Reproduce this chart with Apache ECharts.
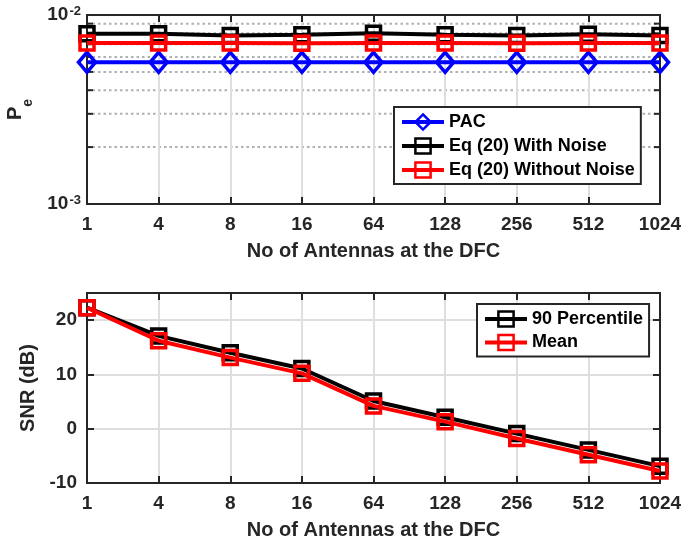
<!DOCTYPE html>
<html>
<head>
<meta charset="utf-8">
<script src="https://cdn.jsdelivr.net/npm/echarts@6/dist/echarts.min.js"></script>
<style>html,body{margin:0;padding:0;background:#fff}#c{width:681px;height:544px}</style>
</head>
<body>
<div id="c"></div>
<script>
// ---- data ----
const categories = ['1', '4', '8', '16', '64', '128', '256', '512', '1024'];
const pacPe = [5.62e-3, 5.62e-3, 5.62e-3, 5.62e-3, 5.62e-3, 5.62e-3, 5.62e-3, 5.62e-3, 5.62e-3];
const eqWithNoisePe = [7.95e-3, 7.95e-3, 7.8e-3, 7.85e-3, 8.0e-3, 7.85e-3, 7.8e-3, 7.9e-3, 7.8e-3];
const eqWithoutNoisePe = [7.1e-3, 7.1e-3, 7.1e-3, 7.08e-3, 7.1e-3, 7.1e-3, 7.08e-3, 7.1e-3, 7.1e-3];
const snr90 = [22.3, 17.1, 14.0, 11.1, 5.1, 2.1, -0.9, -3.9, -6.9];
const snrMean = [22.3, 16.2, 13.1, 10.2, 4.2, 1.3, -1.8, -4.8, -7.8];
const peMinorTicks = [2e-3, 3e-3, 4e-3, 5e-3, 6e-3, 7e-3, 8e-3, 9e-3];
const peRange = [1e-3, 1e-2];
const snrRange = [-10, 25];
const snrInterval = 10;
const legendTop = ['PAC', 'Eq (20) With Noise', 'Eq (20) Without Noise'];
const legendBottom = ['90 Percentile', 'Mean'];
const xName = 'No of Antennas at the DFC';

// ---- styling ----
const FONT = '"Liberation Sans", Arial, Helvetica, sans-serif';
const AX = '#262626';
const GRIDC = '#dedede';

function catAxis(grid, pos, showLabels) {
  return {
    type: 'category', gridIndex: grid, position: pos, data: categories,
    boundaryGap: false,
    axisLine: { show: true, onZero: false, lineStyle: { color: AX, width: 2 } },
    axisTick: { show: true, inside: true, length: 7, alignWithLabel: true, lineStyle: { color: AX, width: 2 } },
    axisLabel: { show: showLabels, margin: 11, fontSize: 19, fontWeight: 'bold', color: AX, fontFamily: FONT },
    splitLine: { show: showLabels, lineStyle: { color: GRIDC, width: 2 } },
    name: showLabels ? xName : '',
    nameLocation: 'middle', nameGap: 37,
    nameTextStyle: { fontSize: 20, fontWeight: 'bold', color: AX, fontFamily: FONT },
    z: 3
  };
}

function legendBox(data, left, top, gap) {
  return {
    data: data, orient: 'vertical', left: left, top: top,
    itemWidth: 42, itemHeight: 19, itemGap: gap,
    padding: [5, 6, 4, 6],
    backgroundColor: '#fff', borderColor: AX, borderWidth: 2, borderRadius: 0,
    lineStyle: { width: 4 },
    itemStyle: { borderWidth: 2.5 },
    textStyle: { fontSize: 18, fontWeight: 'bold', color: '#000', fontFamily: FONT, lineHeight: 20 }
  };
}

const option = {
  animation: false,
  backgroundColor: '#fff',
  grid: [
    { left: 87, right: 21, top: 15, height: 189, show: true, borderColor: AX, borderWidth: 2, backgroundColor: '#fff', outerBoundsMode: 'none', containLabel: false },
    { left: 87, right: 21, top: 293, height: 190, show: true, borderColor: AX, borderWidth: 2, backgroundColor: '#fff', outerBoundsMode: 'none', containLabel: false }
  ],
  xAxis: [
    catAxis(0, 'bottom', true),
    catAxis(0, 'top', false),
    catAxis(1, 'bottom', true),
    catAxis(1, 'top', false)
  ],
  yAxis: [
    {
      type: 'log', logBase: 10, gridIndex: 0, position: 'left', min: peRange[0], max: peRange[1],
      axisLine: { show: true, lineStyle: { color: AX, width: 2 } },
      axisTick: { show: true, inside: true, length: 7, lineStyle: { color: AX, width: 2 } },
      axisLabel: {
        margin: 6, color: AX, fontFamily: FONT,
        formatter: v => '{b|10}{s|' + Math.round(Math.log10(v)) + '}',
        rich: {
          b: { fontSize: 19, fontWeight: 'bold', color: AX, fontFamily: FONT },
          s: { fontSize: 13, fontWeight: 'bold', color: AX, fontFamily: FONT, verticalAlign: 'top', padding: [0, 0, 8, 1] }
        }
      },
      splitLine: { show: false },
      name: '{p|P}{e|e}', nameLocation: 'middle', nameRotate: 90, nameGap: 52,
      nameTextStyle: {
        rich: {
          p: { fontSize: 20, fontWeight: 'bold', color: AX, fontFamily: FONT, verticalAlign: 'top' },
          e: { fontSize: 14, fontWeight: 'bold', color: AX, fontFamily: FONT, verticalAlign: 'bottom', padding: [16, 0, 0, 0] }
        }
      },
      z: 3
    },
    {
      type: 'log', logBase: 10, gridIndex: 0, position: 'right', min: peRange[0], max: peRange[1],
      axisLine: { show: true, lineStyle: { color: AX, width: 2 } },
      axisTick: { show: true, inside: true, length: 7, lineStyle: { color: AX, width: 2 } },
      axisLabel: { show: false }, splitLine: { show: false }, z: 3
    },
    {
      type: 'value', gridIndex: 1, position: 'left', min: snrRange[0], max: snrRange[1], interval: snrInterval,
      axisLine: { show: true, lineStyle: { color: AX, width: 2 } },
      axisTick: { show: true, inside: true, length: 7, lineStyle: { color: AX, width: 2 } },
      axisLabel: { margin: 10, showMaxLabel: false, fontSize: 19, fontWeight: 'bold', color: AX, fontFamily: FONT },
      splitLine: { show: true, lineStyle: { color: GRIDC, width: 2 } },
      name: 'SNR (dB)', nameLocation: 'middle', nameRotate: 90, nameGap: 44,
      nameTextStyle: { fontSize: 20, fontWeight: 'bold', color: AX, fontFamily: FONT },
      z: 3
    },
    {
      type: 'value', gridIndex: 1, position: 'right', min: snrRange[0], max: snrRange[1], interval: snrInterval,
      axisLine: { show: true, lineStyle: { color: AX, width: 2 } },
      axisTick: { show: true, inside: true, length: 7, lineStyle: { color: AX, width: 2 } },
      axisLabel: { show: false }, splitLine: { show: false }, z: 3
    }
  ],
  legend: [
    legendBox(legendTop, 394, 107, 4),
    legendBox(legendBottom, 477, 304, 3.5)
  ],
  series: [
    {
      type: 'custom', xAxisIndex: 0, yAxisIndex: 0, silent: true, z: 1,
      data: peMinorTicks.map(v => [0, v]), encode: { x: 0, y: 1 },
      renderItem: (params, api) => {
        const cs = params.coordSys;
        const y = api.coord([0, api.value(1)])[1];
        return {
          type: 'group',
          children: [
            { type: 'line', shape: { x1: cs.x, y1: y, x2: cs.x + cs.width, y2: y },
              style: { stroke: '#b0b0b0', lineWidth: 2, lineDash: [2.5, 3] } },
            { type: 'line', shape: { x1: cs.x, y1: y, x2: cs.x + 6, y2: y },
              style: { stroke: AX, lineWidth: 2 } },
            { type: 'line', shape: { x1: cs.x + cs.width - 6, y1: y, x2: cs.x + cs.width, y2: y },
              style: { stroke: AX, lineWidth: 2 } }
          ]
        };
      }
    },
    {
      name: 'PAC', type: 'line', xAxisIndex: 0, yAxisIndex: 0, data: pacPe, z: 4,
      symbol: 'diamond', symbolSize: [17, 20], showAllSymbol: true,
      lineStyle: { color: '#0000ff', width: 4 },
      itemStyle: { color: 'rgba(0,0,0,0)', borderColor: '#0000ff', borderWidth: 3.5 }
    },
    {
      name: 'Eq (20) With Noise', type: 'line', xAxisIndex: 0, yAxisIndex: 0, data: eqWithNoisePe, z: 5,
      symbol: 'rect', symbolSize: 14, showAllSymbol: true,
      lineStyle: { color: '#000000', width: 4 },
      itemStyle: { color: 'rgba(0,0,0,0)', borderColor: '#000000', borderWidth: 3.5 }
    },
    {
      name: 'Eq (20) Without Noise', type: 'line', xAxisIndex: 0, yAxisIndex: 0, data: eqWithoutNoisePe, z: 6,
      symbol: 'rect', symbolSize: 14, showAllSymbol: true,
      lineStyle: { color: '#ff0000', width: 4 },
      itemStyle: { color: 'rgba(0,0,0,0)', borderColor: '#ff0000', borderWidth: 3.5 }
    },
    {
      name: '90 Percentile', type: 'line', xAxisIndex: 2, yAxisIndex: 2, data: snr90, z: 5,
      symbol: 'rect', symbolSize: 14, showAllSymbol: true,
      lineStyle: { color: '#000000', width: 4 },
      itemStyle: { color: 'rgba(0,0,0,0)', borderColor: '#000000', borderWidth: 3.5 }
    },
    {
      name: 'Mean', type: 'line', xAxisIndex: 2, yAxisIndex: 2, data: snrMean, z: 6,
      symbol: 'rect', symbolSize: 14, showAllSymbol: true,
      lineStyle: { color: '#ff0000', width: 4 },
      itemStyle: { color: 'rgba(0,0,0,0)', borderColor: '#ff0000', borderWidth: 3.5 }
    }
  ]
};

const chart = echarts.init(document.getElementById('c'), null, { renderer: 'canvas' });
chart.setOption(option);
</script>
</body>
</html>
